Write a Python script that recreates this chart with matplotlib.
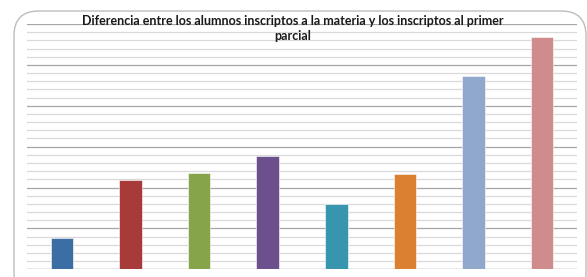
import matplotlib
matplotlib.use("Agg")
import matplotlib.pyplot as plt
from matplotlib.patches import FancyBboxPatch
from matplotlib.ticker import MultipleLocator

TITLE = "Diferencia entre los alumnos inscriptos a la materia y los inscriptos al primer\nparcial"

# one bar per category (no axis labels in the original)
categories = ["1", "2", "3", "4", "5", "6", "7", "8"]
values = [3.85, 10.9, 11.8, 13.9, 8.0, 11.6, 23.6, 28.4]
colors = ["#3b6ea5", "#a73b3a", "#86a44a", "#6c4f8d",
          "#3796ae", "#da8030", "#8fa8cc", "#d08c8c"]

W, H = 587, 277
fig = plt.figure(figsize=(W / 100, H / 100), dpi=100)
fig.patch.set_facecolor("white")

# rounded chart-area frame, cut off at bottom/right like the screenshot
frame = FancyBboxPatch((14 / W, -20 / H), 572 / W, (H - 11 + 20) / H,
                       boxstyle="round,pad=0,rounding_size=0.042",
                       transform=fig.transFigure, facecolor="none",
                       edgecolor="#bdbdbd", linewidth=1.0, mutation_aspect=W / H,
                       zorder=-1)
fig.patches.append(frame)

left, right, top, bottom = 27, 577, 24, 269.3
ax = fig.add_axes([left / W, 1 - bottom / H, (right - left) / W, (bottom - top) / H])
ax.set_facecolor("none")

x = list(range(len(categories)))
ax.bar(x, values, width=0.33, color=colors, edgecolor="white", linewidth=0.4, zorder=3)

ax.set_xlim(-0.51, len(categories) - 0.49)
ax.set_ylim(0, 30)
ax.yaxis.set_major_locator(MultipleLocator(5))
ax.yaxis.set_minor_locator(MultipleLocator(1))
ax.grid(axis="y", which="major", color="#a6a6a6", linewidth=0.9, zorder=0)
ax.grid(axis="y", which="minor", color="#d9d9d9", linewidth=0.9, zorder=0)
ax.set_axisbelow(True)
ax.tick_params(axis="both", which="both", length=0, labelleft=False, labelbottom=False)
for s in ax.spines.values():
    s.set_visible(False)
ax.axhline(0, color="#a6a6a6", linewidth=0.9, zorder=2)

fig.text(293 / W, 1 - 15 / H, TITLE, ha="center", va="top", multialignment="center",
         fontsize=9.0, fontweight="bold", family=["Lato", "DejaVu Sans"],
         linespacing=1.3, color="#1a1a1a", zorder=5)

fig.savefig("out.png", dpi=100)
